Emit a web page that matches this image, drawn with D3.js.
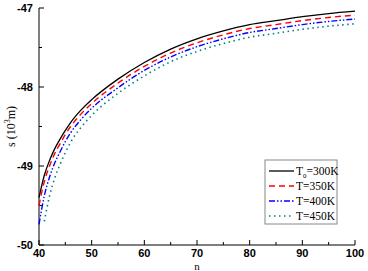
<!DOCTYPE html>
<html>
<head>
<meta charset="utf-8">
<script src="https://cdn.jsdelivr.net/npm/d3@7"></script>
<style>
  body { margin: 0; background: #fff; }
  svg { display: block; }
  .tick-label { font-family: "Liberation Sans", Arial, sans-serif; font-size: 11px; font-weight: bold; }
  .serif { font-family: "Liberation Serif", "Times New Roman", serif; }
</style>
</head>
<body>
<svg id="chart" width="368" height="271"></svg>
<script>
// n values and curve data
const nValues = [40, 41, 42, 43, 44, 45, 46, 48, 50, 55, 60, 65, 70, 75, 80, 85, 90, 95, 100];
const s300 = [-49.40, -49.12, -48.93, -48.78, -48.66, -48.55, -48.45, -48.29, -48.16, -47.90, -47.69, -47.52, -47.39, -47.29, -47.21, -47.16, -47.11, -47.07, -47.04];
const s350 = [-49.50, -49.20, -49.00, -48.84, -48.72, -48.60, -48.50, -48.34, -48.21, -47.95, -47.74, -47.57, -47.44, -47.34, -47.26, -47.21, -47.16, -47.12, -47.09];
const s400 = [-49.74, -49.38, -49.14, -48.96, -48.82, -48.69, -48.58, -48.41, -48.27, -48.01, -47.79, -47.62, -47.49, -47.39, -47.31, -47.26, -47.21, -47.17, -47.14];
const s450 = [null, -49.70, -49.38, -49.15, -48.98, -48.83, -48.70, -48.51, -48.36, -48.08, -47.86, -47.68, -47.55, -47.45, -47.37, -47.32, -47.27, -47.23, -47.20];

const xTicks = [40, 50, 60, 70, 80, 90, 100];
const yTicks = [-47, -48, -49, -50];

const series = [
    {name: "300", sub: true, values: s300, color: "#000000", dash: null, width: 1.3},
    {name: "T=350K", values: s350, color: "#ff0000", dash: "6,4", width: 1.4},
    {name: "T=400K", values: s400, color: "#0000ff", dash: "6,2,1.5,2,1.5,2", width: 1.4},
    {name: "T=450K", values: s450, color: "#008080", dash: "1.5,3.5", width: 1.6}
];

const plotLeft = 39, plotRight = 355, plotTop = 8, plotBottom = 245;

const svg = d3.select("#chart");

const x = d3.scaleLinear().domain([40, 100]).range([plotLeft, plotRight]);
const y = d3.scaleLinear().domain([-50, -47]).range([plotBottom, plotTop]);

// minor ticks
const xMinor = d3.range(45, 100, 10);
const yMinor = [-47.5, -48.5, -49.5];

const gx = svg.append("g").attr("transform", `translate(0,${plotBottom})`);
gx.append("line").attr("x1", plotLeft).attr("x2", plotRight).attr("stroke", "#000");
gx.selectAll(".major").data(xTicks).enter().append("line")
  .attr("x1", d => x(d)).attr("x2", d => x(d)).attr("y1", 0).attr("y2", -5).attr("stroke", "#000");
gx.selectAll(".minor").data(xMinor).enter().append("line")
  .attr("x1", d => x(d)).attr("x2", d => x(d)).attr("y1", 0).attr("y2", -3).attr("stroke", "#000");
gx.selectAll("text").data(xTicks).enter().append("text")
  .attr("class", "tick-label")
  .attr("x", d => x(d)).attr("y", 12)
  .attr("text-anchor", "middle")
  .text(d => d);

const gy = svg.append("g").attr("transform", `translate(${plotLeft},0)`);
gy.append("line").attr("y1", plotTop).attr("y2", plotBottom).attr("stroke", "#000");
gy.selectAll(".major").data(yTicks).enter().append("line")
  .attr("y1", d => y(d)).attr("y2", d => y(d)).attr("x1", 0).attr("x2", 5).attr("stroke", "#000");
gy.selectAll(".minor").data(yMinor).enter().append("line")
  .attr("y1", d => y(d)).attr("y2", d => y(d)).attr("x1", 0).attr("x2", 3).attr("stroke", "#000");
gy.selectAll("text").data(yTicks).enter().append("text")
  .attr("class", "tick-label")
  .attr("x", -6).attr("y", d => y(d)).attr("dy", "0.35em")
  .attr("text-anchor", "end")
  .text(d => d);

// axis titles
svg.append("text").attr("class", "serif")
  .attr("x", (plotLeft + plotRight) / 2).attr("y", 270)
  .attr("text-anchor", "middle").attr("font-size", 11)
  .text("n");

const yt = svg.append("text").attr("class", "serif")
  .attr("transform", `translate(15,${(plotTop + plotBottom) / 2}) rotate(-90)`)
  .attr("text-anchor", "middle").attr("font-size", 12);
yt.append("tspan").text("s (10");
yt.append("tspan").attr("font-size", 8).attr("dy", -5).text("3");
yt.append("tspan").attr("dy", 5).text("m)");

// curves
const line = d3.line()
  .defined(d => d[1] !== null)
  .x(d => x(d[0]))
  .y(d => y(d[1]))
  .curve(d3.curveMonotoneX);

svg.append("g").selectAll("path").data(series).enter().append("path")
  .attr("d", s => line(nValues.map((n, i) => [n, s.values[i]])))
  .attr("fill", "none")
  .attr("stroke", s => s.color)
  .attr("stroke-width", s => s.width)
  .attr("stroke-dasharray", s => s.dash);

// legend
const lg = svg.append("g").attr("transform", "translate(265,160)");
lg.append("rect").attr("width", 72).attr("height", 64)
  .attr("fill", "#fff").attr("stroke", "#888").attr("stroke-width", 1);

const items = lg.selectAll(".item").data(series).enter().append("g")
  .attr("transform", (d, i) => `translate(0,${11 + i * 15})`);
items.append("line")
  .attr("x1", 4).attr("x2", 29)
  .attr("stroke", d => d.color)
  .attr("stroke-width", d => d.width)
  .attr("stroke-dasharray", d => d.dash);
items.each(function(d) {
    const t = d3.select(this).append("text").attr("class", "serif")
      .attr("x", 31).attr("dy", "0.35em").attr("font-size", 11.5);
    if (d.sub) {
        t.append("tspan").text("T");
        t.append("tspan").attr("font-size", 7).attr("dy", 2.5).text("0");
        t.append("tspan").attr("dy", -2.5).text("=" + d.name + "K");
    } else {
        t.text(d.name);
    }
});
</script>
</body>
</html>
